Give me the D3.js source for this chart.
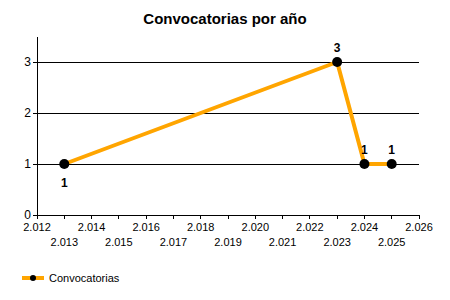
<!DOCTYPE html>
<html>
<head>
<meta charset="utf-8">
<script src="https://cdn.jsdelivr.net/npm/d3@7"></script>
<style>
body { margin: 0; background: #fff; }
text { font-family: "Liberation Sans", Arial, sans-serif; }
</style>
</head>
<body>
<svg id="chart" width="450" height="300"></svg>
<script>
var years = [2013, 2023, 2024, 2025];
var counts = [1, 3, 1, 1];
var labelBelow = [true, false, false, false];
var xTicks = d3.range(2012, 2027);
var yTicks = [0, 1, 2, 3];

var svg = d3.select('#chart');
var loc = d3.formatLocale({ decimal: ',', thousands: '.', grouping: [3], currency: ['', ''] });
var fmt = loc.format(',');

var x = d3.scaleLinear().domain([2012, 2026]).range([37, 419]);
var y = d3.scaleLinear().domain([0, 3]).range([215, 62]);

svg.append('text')
    .attr('x', 225).attr('y', 24)
    .attr('text-anchor', 'middle')
    .style('font-size', '15px').style('font-weight', 'bold')
    .text('Convocatorias por año');

// gridlines
svg.selectAll('.grid').data(yTicks.slice(1)).enter().append('line')
    .attr('x1', x(2012)).attr('x2', x(2026))
    .attr('y1', function(d) { return y(d); }).attr('y2', function(d) { return y(d); })
    .attr('stroke', '#000').attr('stroke-width', 1).attr('shape-rendering', 'crispEdges');

// y axis
svg.append('line').attr('x1', 37).attr('x2', 37).attr('y1', 37).attr('y2', 215)
    .attr('stroke', '#000').attr('shape-rendering', 'crispEdges');
svg.selectAll('.ytick').data(yTicks).enter().append('line')
    .attr('x1', 33).attr('x2', 37)
    .attr('y1', function(d) { return y(d); }).attr('y2', function(d) { return y(d); })
    .attr('stroke', '#000').attr('shape-rendering', 'crispEdges');
svg.selectAll('.ylab').data(yTicks).enter().append('text')
    .attr('x', 31).attr('y', function(d) { return y(d) + 4; })
    .attr('text-anchor', 'end').style('font-size', '12px')
    .text(function(d) { return d; });

// x axis
svg.append('line').attr('x1', x(2012)).attr('x2', x(2026)).attr('y1', 215).attr('y2', 215)
    .attr('stroke', '#000').attr('shape-rendering', 'crispEdges');
svg.selectAll('.xtick').data(xTicks).enter().append('line')
    .attr('x1', function(d) { return x(d); }).attr('x2', function(d) { return x(d); })
    .attr('y1', 215).attr('y2', 219)
    .attr('stroke', '#000').attr('shape-rendering', 'crispEdges');
svg.selectAll('.xlab').data(xTicks).enter().append('text')
    .attr('x', function(d) { return x(d); })
    .attr('y', function(d) { return (d % 2 === 0) ? 231 : 246; })
    .attr('text-anchor', 'middle').style('font-size', '11px')
    .text(function(d) { return fmt(d); });

// series
var pts = years.map(function(d, i) { return [d, counts[i], labelBelow[i]]; });
svg.append('path').datum(pts)
    .attr('d', d3.line().x(function(d) { return x(d[0]); }).y(function(d) { return y(d[1]); }))
    .attr('fill', 'none').attr('stroke', '#FFA500').attr('stroke-width', 4)
    .attr('stroke-linejoin', 'round');
svg.selectAll('.pt').data(pts).enter().append('circle')
    .attr('cx', function(d) { return x(d[0]); }).attr('cy', function(d) { return y(d[1]); })
    .attr('r', 5).attr('fill', '#000');
svg.selectAll('.vlab').data(pts).enter().append('text')
    .attr('x', function(d) { return x(d[0]); })
    .attr('y', function(d) { return d[2] ? y(d[1]) + 23 : y(d[1]) - 10; })
    .attr('text-anchor', 'middle').style('font-size', '12px').style('font-weight', 'bold')
    .text(function(d) { return d[1]; });

// legend
svg.append('line').attr('x1', 22).attr('x2', 44).attr('y1', 278).attr('y2', 278)
    .attr('stroke', '#FFA500').attr('stroke-width', 4);
svg.append('circle').attr('cx', 33).attr('cy', 278).attr('r', 3).attr('fill', '#000');
svg.append('text').attr('x', 49).attr('y', 282).style('font-size', '11px').text('Convocatorias');
</script>
</body>
</html>
